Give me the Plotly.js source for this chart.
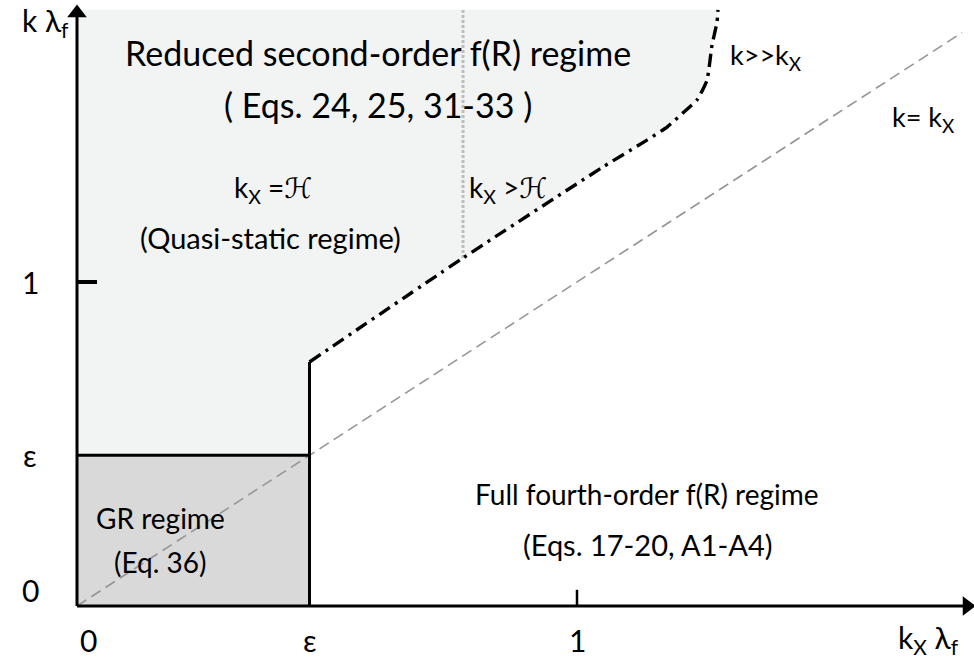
<!DOCTYPE html>
<html>
<head>
<meta charset="utf-8">
<script src="https://cdn.plot.ly/plotly-3.0.1.min.js"></script>
<style>html,body{margin:0;padding:0;background:#fff;}#chart{width:974px;height:658px;}</style>
</head>
<body>
<div id="chart"></div>
<script>
// ---- data (in units of k_X*lambda_f and k*lambda_f) ----
const EPS = 0.465;
const TOP = 1.84;            // top of the shaded region
const AXIS_X_END = 1.78;
const AXIS_Y_END = 1.83;

// dash-dot boundary between full fourth-order and reduced regimes
const boundaryX = [0.465, 0.772, 1.052, 1.14, 1.18, 1.212, 1.24, 1.26, 1.27, 1.28, 1.282];
const boundaryY = [0.753, 1.074, 1.355, 1.438, 1.478, 1.522, 1.562, 1.623, 1.731, 1.802, 1.84];

// k = k_X diagonal
const diagX = [0, 1.77];
const diagY = [0, 1.77];

// k_X = H  divider (dotted)
const dividerX = [0.772, 0.772];
const dividerY = [1.074, 1.84];

// ticks
const xTickVals = [0, EPS, 1];
const xTickText = ['0', 'ε', '1'];
const yTickVals = [0, EPS, 1];
const yTickText = ['0', 'ε', '1'];

// texts
const xAxisLabel = 'k<sub>X</sub> λ<sub>f</sub>';
const yAxisLabel = 'k λ<sub>f</sub>';
const reducedLabel = ['Reduced second-order f(R) regime', '( Eqs. 24, 25, 31-33 )'];
const quasiLabel = ['k<sub>X</sub> =ℋ', '(Quasi-static regime)'];
const beyondLabel = 'k<sub>X</sub> >ℋ';
const kggLabel = 'k>>k<sub>X</sub>';
const keqLabel = 'k= k<sub>X</sub>';
const fullLabel = ['Full fourth-order f(R) regime', '(Eqs. 17-20, A1-A4)'];
const grLabel = ['GR regime', '(Eq. 36)'];

// ---- traces ----
const lightPolyX = [0, EPS, EPS].concat(boundaryX).concat([0, 0]);
const lightPolyY = [EPS, EPS, boundaryY[0]].concat(boundaryY).concat([TOP, EPS]);

const traces = [
  {x: lightPolyX, y: lightPolyY, mode: 'lines', fill: 'toself', fillcolor: '#f2f3f3',
   line: {width: 0, color: 'rgba(0,0,0,0)'}},
  {x: [0, EPS, EPS, 0, 0], y: [0, 0, EPS, EPS, 0], mode: 'lines', fill: 'toself', fillcolor: '#d9d9d9',
   line: {width: 0, color: 'rgba(0,0,0,0)'}},
  {x: dividerX, y: dividerY, mode: 'lines', line: {color: '#bdbdbd', width: 3, dash: '3px,2px'}},
  {x: diagX, y: diagY, mode: 'lines', line: {color: '#959595', width: 1.6, dash: '11px,6px'}},
  {x: [0, EPS], y: [EPS, EPS], mode: 'lines', line: {color: '#000', width: 3}},
  {x: [EPS, EPS], y: [0, boundaryY[0]], mode: 'lines', line: {color: '#000', width: 3}},
  {x: boundaryX, y: boundaryY, mode: 'lines', line: {color: '#000', width: 3.4, dash: '13px,6px,3px,6px', shape: 'spline', smoothing: 0.5}},
  // axes
  {x: [0, AXIS_X_END], y: [0, 0], mode: 'lines', line: {color: '#000', width: 3}},
  {x: [0, 0], y: [0, AXIS_Y_END], mode: 'lines', line: {color: '#000', width: 3}},
  {x: [AXIS_X_END], y: [0], mode: 'markers', marker: {symbol: 'triangle-right', size: 17, color: '#000'}},
  {x: [0], y: [AXIS_Y_END], mode: 'markers', marker: {symbol: 'triangle-up', size: 17, color: '#000'}},
  // tick marks
  {x: [1, 1], y: [0, 0.05], mode: 'lines', line: {color: '#000', width: 2.5}},
  {x: [0, 0.04], y: [1, 1], mode: 'lines', line: {color: '#000', width: 4}}
];
traces.forEach(t => { t.showlegend = false; t.hoverinfo = 'skip'; });

const FONT = 'Lato, "Open Sans", "DejaVu Sans", sans-serif';
function ann(text, x, y, size, opts) {
  return Object.assign({text: text, x: x, y: y, xref: 'x', yref: 'y', showarrow: false,
    font: {family: FONT, size: size, color: '#000'}, xanchor: 'center', yanchor: 'middle'}, opts || {});
}
// pixel helpers for label placement (plot area covers the whole 974x658 figure)
const PX = px => (px - 77) / 500;
const PY = py => (606 - py) / 324;

const annotations = [
  ann(reducedLabel[0], PX(378), PY(52), 34),
  ann(reducedLabel[1], PX(378), PY(104), 34),
  ann(quasiLabel[0], PX(273), PY(189), 28),
  ann(quasiLabel[1], PX(270), PY(237), 29),
  ann(beyondLabel, PX(508), PY(189), 28),
  ann(kggLabel, PX(766), PY(56), 27),
  ann(keqLabel, PX(923), PY(118), 27),
  ann(fullLabel[0], PX(647), PY(494), 28),
  ann(fullLabel[1], PX(647), PY(544), 29),
  ann(grLabel[0], PX(160), PY(518), 28),
  ann(grLabel[1], PX(160), PY(562), 28),
  ann(xAxisLabel, PX(928), PY(639), 30),
  ann(yAxisLabel, PX(45), PY(22), 30)
];
xTickVals.forEach((v, i) => {
  annotations.push(ann(xTickText[i], v, 0, 30, {yshift: -34, xshift: i === 0 ? 11 : 0}));
});
yTickVals.forEach((v, i) => {
  annotations.push(ann(yTickText[i], 0, v, 30, {xshift: -47, yshift: i === 0 ? 16 : 0}));
});

const layout = {
  width: 974, height: 658,
  margin: {l: 0, r: 0, t: 0, b: 0, pad: 0},
  paper_bgcolor: '#fff', plot_bgcolor: '#fff',
  showlegend: false,
  xaxis: {range: [PX(0), PX(974)], visible: false, fixedrange: true},
  yaxis: {range: [PY(658), PY(0)], visible: false, fixedrange: true},
  annotations: annotations
};
Plotly.newPlot('chart', traces, layout, {displayModeBar: false, staticPlot: true});
</script>
</body>
</html>
